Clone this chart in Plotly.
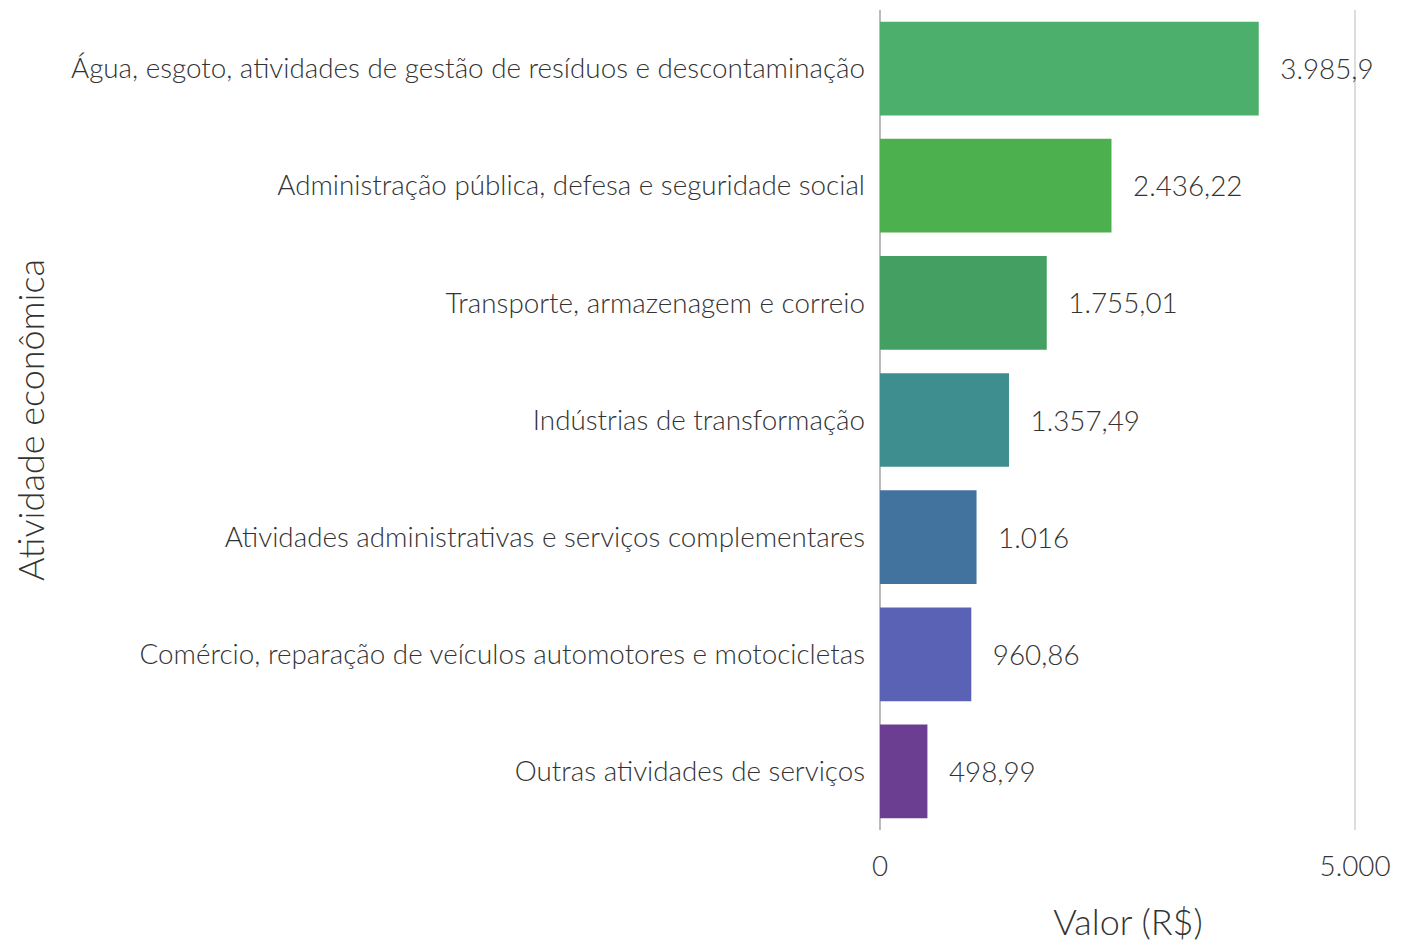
import plotly.graph_objects as go

categories = [
    "Água, esgoto, atividades de gestão de resíduos e descontaminação",
    "Administração pública, defesa e seguridade social",
    "Transporte, armazenagem e correio",
    "Indústrias de transformação",
    "Atividades administrativas e serviços complementares",
    "Comércio, reparação de veículos automotores e motocicletas",
    "Outras atividades de serviços",
]
values = [3985.9, 2436.22, 1755.01, 1357.49, 1016, 960.86, 498.99]
colors = ["#4CAF6B", "#4CB04E", "#43A062", "#3F8E8F", "#42739E", "#5A62B6", "#6C3E91"]

FONT = "Lato Light, Lato, sans-serif"
TXT = "#333333"

fig = go.Figure(
    go.Bar(
        y=categories,
        x=values,
        orientation="h",
        marker=dict(color=colors, line=dict(width=0)),
        texttemplate="\u00a0\u00a0\u2009%{x:,}",
        textposition="outside",
        textfont=dict(family=FONT, size=27.8, color=TXT, weight=300),
        cliponaxis=False,
        hoverinfo="skip",
    )
)

fig.update_layout(
    width=1409,
    height=942,
    separators=",.",
    plot_bgcolor="white",
    paper_bgcolor="white",
    margin=dict(l=872, r=41, t=2, b=120),
    bargap=0.2,
    showlegend=False,
    font=dict(family=FONT, size=27.8, color=TXT, weight=300),
)
fig.update_yaxes(
    autorange="reversed",
    title=dict(text="Atividade econômica", font=dict(family=FONT, size=36, color=TXT, weight=300), standoff=24),
    showgrid=False,
    ticklabelstandoff=14,
    tickfont=dict(family=FONT, size=27.8, color=TXT, weight=300),
    showline=False,
)
fig.update_xaxes(
    range=[0, 5220],
    tickvals=[0, 5000],
    tickformat=",",
    showgrid=True,
    gridcolor="#DDDDDD",
    gridwidth=2,
    zeroline=True,
    zerolinecolor="#BBBBBB",
    zerolinewidth=2,
    ticklabelstandoff=17,
    tickfont=dict(family=FONT, size=27.8, color=TXT, weight=300),
    title=dict(text="Valor (R$)", font=dict(family=FONT, size=36, color=TXT, weight=300), standoff=29),
)

fig.write_html("out.html")
